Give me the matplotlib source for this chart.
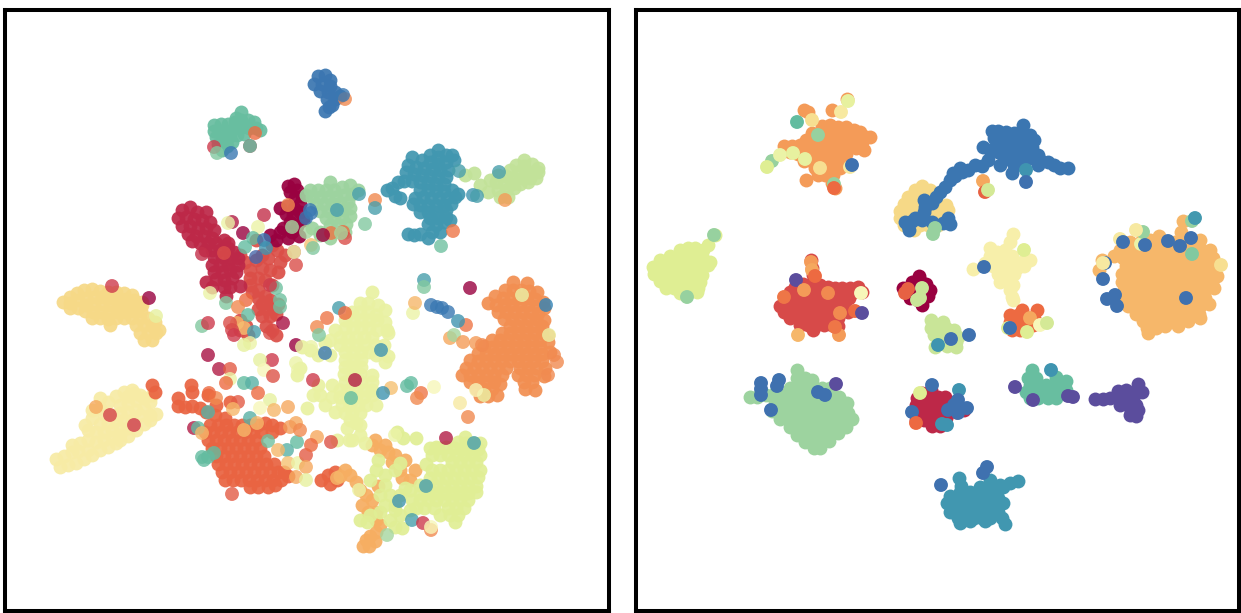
import numpy as np
import matplotlib
matplotlib.use("Agg")
import matplotlib.pyplot as plt

# ---- left panel: embedding points per cluster (x, y) ----
left_blue = [(318,76),(325,75),(330,80),(314,84),(322,84),(330,86),(320,91),(328,92),(335,92),(327,99),(335,99),(340,96),(332,105),(325,111),(329,107)]
left_mint = [(241,112),(236,118),(214,125),(221,124),(228,124),(235,122),(241,120),(248,120),(254,122),(214,131),(221,131),(228,131),(235,128),(242,127),(249,128),(256,128),(260,130),(216,137),(223,138),(230,136),(237,135),(244,134),(218,144),(225,144),(232,142),(222,150),(227,146)]
left_crimson = [(182,210),(190,207),(197,212),(206,212),(178,218),(186,217),(194,219),(202,220),(210,222),(182,226),(190,226),(198,228),(206,228),(214,230),(188,234),(196,236),(204,236),(212,238),(192,241),(200,243),(208,243),(216,243),(224,240),(228,243),(205,250),(212,250),(220,250),(228,248),(234,252),(214,257),(222,257),(230,258),(238,258),(212,265),(220,265),(228,264),(214,272),(222,272),(230,270),(216,279),(224,280),(206,282),(232,278),(224,287),(212,287),(230,287),(240,286),(226,296),(238,265),(236,272)]
left_dark = [(288,186),(294,184),(290,192),(297,190),(295,197),(302,196),(280,208),(287,206),(294,208),(300,204),(286,214),(293,215),(300,212),(303,220),(290,222),(297,226),(283,228),(280,232),(292,232),(299,236),(288,238),(276,240),(270,235)]
left_green = [(330,182),(310,190),(318,190),(326,190),(334,190),(342,187),(350,185),(358,190),(306,195),(312,197),(320,197),(328,197),(336,197),(344,195),(352,194),(316,204),(324,204),(332,204),(340,203),(348,202),(320,211),(328,211),(336,211),(344,210),(350,208),(326,218),(334,218),(342,218),(350,216),(330,225),(338,225),(346,224),(312,228),(320,232),(335,232),(345,232),(320,235),(330,238)]
left_teal = [(438,150),(430,155),(438,157),(446,155),(452,155),(412,157),(422,160),(430,162),(438,164),(446,162),(454,160),(408,165),(416,167),(424,168),(432,169),(440,170),(448,170),(406,172),(414,174),(422,175),(430,176),(438,177),(446,177),(404,181),(412,181),(420,182),(428,183),(436,184),(444,184),(398,182),(392,188),(387,190),(395,196),(400,198),(420,190),(428,190),(436,191),(444,191),(452,190),(458,194),(415,198),(423,197),(431,198),(439,198),(447,198),(455,197),(413,204),(420,205),(428,205),(436,205),(444,205),(451,204),(420,212),(428,212),(436,212),(446,210),(430,218),(438,218),(446,217),(428,224),(436,225),(444,222),(450,220),(432,232),(440,232),(428,238),(408,234),(414,235),(420,234)]
left_lime = [(524,160),(516,165),(524,166),(532,164),(538,168),(510,170),(518,172),(526,172),(534,172),(538,172),(498,175),(506,176),(514,178),(522,178),(530,178),(536,178),(490,180),(496,182),(504,183),(512,184),(520,184),(528,182),(474,173),(465,175),(480,185),(488,192),(498,190),(506,190),(514,188),(500,197),(508,197)]
left_red = [(250,285),(258,290),(265,280),(270,270),(262,268),(278,272),(272,285),(250,270),(245,262),(256,260),(277,250),(268,258),(280,262),(258,298),(265,296),(252,292),(270,300),(258,278),(262,255),(240,255),(262,304),(270,304),(278,304),(258,309),(266,309),(274,309),(262,316),(270,316),(276,314),(240,330),(246,326),(272,330),(276,335),(240,320),(248,335),(266,326),(250,278),(285,255),(272,245),(256,240)]
left_orange = [(513,282),(527,283),(505,290),(513,290),(521,290),(529,291),(537,292),(495,296),(503,298),(511,298),(519,298),(527,298),(535,299),(543,302),(488,303),(496,305),(504,305),(512,305),(520,305),(528,305),(536,306),(544,308),(498,312),(506,312),(514,312),(522,312),(530,312),(538,313),(504,319),(512,319),(520,319),(528,319),(536,319),(544,320),(510,326),(518,326),(526,326),(534,326),(542,326),(502,333),(510,333),(518,333),(526,333),(534,333),(542,333),(548,335),(492,340),(500,340),(508,340),(516,340),(524,340),(532,340),(540,340),(548,342),(484,346),(492,347),(500,347),(508,347),(516,347),(524,347),(532,347),(540,347),(478,353),(486,354),(494,354),(502,354),(510,354),(518,354),(526,354),(534,354),(542,354),(550,352),(470,360),(478,361),(486,361),(494,361),(502,361),(510,361),(518,361),(526,361),(534,361),(542,361),(466,368),(474,368),(482,368),(490,368),(498,368),(506,368),(520,368),(528,368),(536,368),(545,368),(462,375),(470,375),(478,375),(486,375),(494,375),(502,375),(518,375),(526,375),(534,375),(544,376),(470,382),(478,382),(486,382),(494,382),(524,382),(532,382),(476,389),(484,389),(492,389),(500,384),(525,389),(535,390),(480,396),(488,396),(497,395)]
left_yellow = [(70,297),(77,293),(84,290),(92,289),(100,291),(108,292),(116,292),(124,293),(132,295),(63,302),(70,303),(78,300),(86,298),(94,297),(102,297),(110,298),(118,299),(126,299),(134,300),(142,302),(70,308),(78,308),(86,305),(94,304),(102,304),(110,305),(118,305),(126,305),(134,305),(142,305),(85,311),(93,312),(101,312),(109,312),(117,312),(125,312),(133,311),(141,311),(92,318),(100,318),(108,319),(116,318),(124,318),(132,318),(140,318),(148,318),(155,322),(110,325),(136,325),(144,325),(152,326),(159,330),(140,333),(148,333),(156,333),(144,340),(152,340)]
left_pale = [(56,459),(64,456),(72,452),(60,467),(68,465),(76,463),(84,459),(78,451),(72,445),(80,443),(88,450),(92,455),(100,450),(108,447),(116,443),(88,440),(96,442),(104,440),(112,437),(120,435),(96,432),(104,432),(112,430),(120,428),(128,428),(100,424),(108,423),(116,420),(124,420),(132,420),(140,415),(112,415),(120,413),(128,412),(136,410),(144,408),(150,402),(120,405),(128,403),(136,400),(144,398),(128,396),(134,393),(140,395),(152,395),(88,430),(150,415),(85,425),(92,418),(100,408),(108,402),(116,396),(124,392),(132,390),(120,440),(128,436),(136,430),(144,424),(150,420),(156,414),(92,410),(104,414),(100,398)]
left_tomato = [(215,415),(225,418),(210,425),(218,425),(226,425),(234,425),(242,425),(250,425),(258,425),(265,423),(272,425),(205,432),(213,432),(221,432),(229,432),(237,432),(245,432),(253,432),(261,432),(208,440),(216,440),(224,440),(232,440),(240,440),(248,440),(256,440),(212,448),(220,448),(228,448),(236,448),(244,448),(252,448),(260,448),(216,456),(224,456),(232,456),(240,456),(248,456),(256,456),(264,456),(218,464),(226,464),(234,464),(242,464),(250,464),(258,464),(266,464),(274,464),(222,472),(230,472),(238,472),(246,472),(254,472),(262,472),(270,472),(278,472),(284,472),(225,480),(233,480),(241,480),(249,480),(257,480),(265,480),(273,480),(281,480),(288,476),(250,487),(258,487),(268,487),(275,485),(178,406),(185,407),(192,406),(200,408),(206,412),(178,398),(191,385),(192,392),(152,385),(155,392),(208,395),(321,480),(328,475),(330,484),(337,480),(335,472),(216,405),(230,402),(272,432),(280,428)]
left_apricot = [(345,470),(350,475),(356,482),(360,490),(366,495),(372,500),(362,505),(368,512),(376,512),(375,440),(385,445),(395,455),(405,460),(415,470),(400,470),(388,452),(380,450),(410,480),(366,540),(370,536),(376,532),(363,546),(369,546),(375,541),(380,525),(376,520),(372,445),(392,462),(402,478),(378,486),(340,476)]
left_spring = [(465,437),(458,442),(466,443),(474,443),(480,443),(430,448),(438,448),(446,447),(454,448),(462,449),(470,449),(478,449),(432,455),(440,455),(448,455),(456,455),(464,455),(472,455),(480,455),(452,462),(460,462),(468,462),(476,462),(426,464),(432,470),(440,470),(448,470),(456,470),(464,470),(472,470),(480,470),(430,478),(438,478),(446,478),(454,478),(462,478),(470,478),(478,477),(428,486),(436,486),(444,486),(452,486),(460,486),(468,486),(476,486),(420,493),(428,493),(436,493),(444,493),(452,493),(460,493),(468,493),(476,492),(412,500),(420,500),(428,500),(436,500),(444,500),(452,500),(460,500),(468,500),(416,508),(424,508),(434,508),(448,508),(456,508),(464,508),(440,515),(450,515),(458,515),(455,522),(360,520),(370,515),(380,512),(390,520),(395,527),(380,495),(390,495),(400,495),(405,488),(395,505),(385,505),(410,510),(395,510),(378,460),(385,475),(395,470),(400,463),(397,432),(403,438),(416,438),(436,447),(370,480),(367,522),(376,470),(385,485),(400,515),(410,490),(420,485),(402,528)]
left_cream = [(372,292),(360,303),(368,303),(378,305),(352,312),(360,312),(368,312),(376,315),(387,330),(345,320),(353,320),(361,320),(369,320),(377,320),(385,322),(388,333),(335,330),(345,328),(353,328),(361,328),(369,328),(377,330),(340,337),(348,337),(356,337),(364,337),(372,337),(384,345),(388,356),(340,345),(348,345),(356,345),(364,345),(345,352),(353,352),(361,352),(369,352),(345,360),(353,360),(361,360),(376,355),(385,362),(345,367),(353,367),(361,367),(344,374),(352,374),(360,374),(372,375),(345,382),(353,382),(361,382),(372,382),(307,408),(313,395),(320,395),(332,385),(340,390),(348,390),(356,390),(364,390),(372,390),(332,397),(340,397),(348,397),(356,397),(364,397),(372,395),(342,405),(350,405),(358,405),(366,405),(376,405),(345,413),(352,413),(360,413),(350,420),(356,423),(347,428),(352,440),(360,435),(360,425),(337,440),(349,440),(365,443),(297,375),(300,368),(318,355),(325,343),(310,350),(302,347),(330,355),(330,340),(325,405),(335,412),(318,385),(385,310),(375,345)]
# outliers: (x, y, colour position)
left_mixed = [(255,133,.2),(214,147,.1),(217,153,.75),(231,153,.92),(250,146,.1),(250,146,.8),(345,99,.25),(343,95,.92),(232,222,.05),(228,223,.55),(264,215,.08),(258,227,.55),(243,233,0),(253,238,.8),(264,240,.92),(266,248,.87),(245,247,.8),(224,253,.14),(202,254,.08),(256,257,.95),(296,265,.14),(294,252,.1),(294,252,.55),(311,245,.35),(313,248,.75),(288,205,.25),(310,210,.92),(306,218,.92),(311,213,.92),(337,210,.85),(359,194,.85),(375,200,.25),(375,208,.85),(365,224,.75),(343,232,.2),(331,233,.22),(345,238,.14),(323,235,0),(341,233,.7),(292,227,.7),(306,232,.7),(470,288,0),(424,280,.85),(424,287,.75),(339,308,.85),(149,298,0),(210,293,.55),(226,303,.75),(276,288,.78),(280,300,.78),(280,307,.78),(246,300,.2),(238,307,.25),(270,285,.1),(459,171,.85),(473,195,.87),(477,196,.85),(441,246,.78),(453,231,.22),(499,172,.85),(505,200,.28),(522,295,.55),(546,305,.9),(549,335,.55),(468,417,.25),(484,395,.55),(476,390,.5),(460,403,.45),(554,355,.25),(557,362,.25),(548,375,.25),(112,286,.1),(156,316,.57),(96,407,.3),(110,415,.12),(134,425,.1),(248,315,.8),(202,326,.75),(208,323,.1),(237,323,.33),(244,328,.35),(254,332,.85),(283,323,.03),(270,333,.14),(232,330,.12),(230,323,.14),(234,335,.1),(250,343,.55),(244,345,.57),(208,355,.03),(296,345,0),(302,347,.55),(311,347,.55),(272,360,.1),(260,360,.57),(264,370,.5),(273,376,.15),(296,363,.55),(298,370,.55),(219,369,.05),(230,369,.17),(230,379,.55),(226,383,.2),(244,383,.8),(252,383,.82),(258,393,.2),(270,400,.57),(260,408,.5),(288,407,.3),(274,410,.33),(238,402,.17),(216,398,.25),(209,393,.2),(208,412,.82),(233,409,.33),(250,418,.82),(257,423,.33),(244,430,.33),(268,441,.78),(287,450,.82),(297,442,.8),(278,450,.33),(288,463,.35),(298,463,.55),(306,455,.17),(306,467,.3),(296,477,.3),(306,480,.57),(317,437,.3),(331,442,.15),(311,445,.2),(296,423,.3),(290,427,.28),(300,430,.25),(194,428,.05),(198,428,.8),(202,433,.33),(202,457,.8),(208,457,.8),(214,453,.8),(204,460,.8),(232,494,.17),(327,318,.22),(345,313,.2),(317,327,.25),(319,335,.75),(325,353,.92),(381,350,.87),(313,380,.1),(355,380,.05),(391,388,.35),(383,393,.87),(351,398,.8),(411,383,.8),(407,386,.8),(421,393,.22),(417,398,.25),(434,387,.5),(413,313,.55),(415,303,.33),(431,305,.92),(437,307,.92),(442,308,.92),(448,312,.92),(466,325,.22),(458,321,.87),(450,338,.3),(454,335,.7),(463,342,.28),(476,343,.28),(482,345,.25),(446,438,.05),(474,443,.85),(426,486,.85),(399,501,.87),(412,520,.85),(423,523,.1),(431,530,.25),(431,527,.5),(387,535,.7),(337,478,.33),(359,490,.55),(395,435,.55)]

# ---- right panel ----
right_orange = [(822,126),(830,125),(838,127),(846,127),(854,130),(860,132),(870,137),(812,133),(820,133),(828,133),(836,133),(844,133),(852,135),(860,138),(866,137),(806,140),(814,140),(822,140),(830,140),(838,140),(846,140),(854,142),(862,142),(800,145),(808,147),(816,147),(824,147),(832,147),(840,147),(848,147),(856,148),(864,150),(784,146),(792,146),(790,152),(798,154),(806,154),(814,154),(822,154),(830,154),(838,154),(846,154),(804,161),(812,161),(820,161),(828,161),(836,161),(844,159),(815,168),(823,168),(831,168),(840,168),(818,175),(825,175),(833,175),(806,180),(832,183),(835,188),(804,110),(808,112),(832,110),(847,99)]
right_yellow = [(922,186),(915,190),(922,192),(930,190),(908,197),(916,198),(924,198),(932,196),(904,204),(912,204),(920,204),(928,204),(936,205),(946,205),(900,211),(908,211),(916,211),(924,211),(932,211),(940,211),(948,210),(900,218),(908,218),(916,218),(924,218),(932,218),(940,218),(904,225),(912,225),(920,225),(928,225),(938,225),(914,230)]
right_blue = [(1023,125),(1022,132),(992,131),(998,131),(1006,132),(1014,133),(1030,135),(994,138),(1002,138),(1010,138),(1018,138),(1026,140),(1034,140),(1000,145),(1008,145),(1016,145),(1024,147),(1032,147),(983,147),(990,150),(998,152),(1006,152),(1014,152),(1022,152),(1030,152),(1038,155),(1005,159),(1013,159),(1021,159),(1030,158),(1040,160),(1048,162),(1054,165),(1060,168),(1068,168),(1014,165),(1022,165),(1038,165),(1012,173),(1000,165),(988,160),(982,166),(975,165),(968,170),(962,172),(960,168),(953,173),(955,176),(950,180),(945,187),(940,192),(936,197),(932,203),(924,200),(925,207),(924,212),(922,220),(912,221),(908,226),(905,222),(915,218),(932,222),(948,218),(950,224),(943,223),(909,230)]
right_lime = [(715,235),(708,245),(703,250),(698,255),(680,250),(688,248),(695,248),(670,256),(678,256),(686,256),(694,256),(702,256),(660,260),(668,262),(676,262),(684,262),(692,262),(700,262),(710,262),(653,267),(661,268),(669,268),(677,268),(685,268),(693,268),(701,268),(708,265),(654,274),(662,275),(670,275),(678,275),(686,275),(694,275),(702,275),(660,281),(668,282),(676,282),(684,282),(692,282),(700,282),(666,288),(674,288),(682,288),(690,288),(698,288),(680,293),(688,291),(697,292)]
right_red = [(811,260),(812,268),(813,275),(795,287),(803,284),(811,285),(820,285),(828,287),(835,288),(842,288),(850,288),(858,287),(790,292),(798,292),(806,292),(814,292),(822,292),(830,292),(838,292),(846,292),(854,292),(862,292),(785,300),(793,300),(801,300),(809,300),(817,300),(825,300),(833,300),(841,300),(849,298),(780,306),(788,306),(796,306),(804,306),(812,306),(820,306),(828,306),(836,306),(844,306),(784,312),(792,312),(800,312),(808,312),(816,312),(824,312),(832,312),(840,312),(848,312),(790,318),(798,318),(806,318),(814,318),(822,318),(830,318),(838,318),(800,325),(808,325),(816,325),(824,325),(832,325),(838,326),(813,330)]
right_dark = [(903,288),(919,278),(920,290),(910,288),(919,276),(930,290),(905,290),(912,282),(926,284),(918,300),(922,305),(910,298),(928,296)]
right_sprout = [(931,320),(943,322),(931,328),(938,328),(946,328),(954,330),(934,335),(942,335),(950,335),(958,337),(940,342),(948,342),(956,342),(935,347),(947,346),(956,347)]
right_cream = [(1013,234),(1010,242),(1005,250),(990,248),(997,252),(1005,255),(1012,256),(990,256),(998,260),(1006,262),(1014,262),(1022,262),(1030,260),(985,263),(993,266),(1001,268),(1009,268),(1017,268),(1024,266),(998,274),(1006,274),(1014,274),(1000,282),(1008,281),(1013,285),(1010,290),(1012,297),(1013,300),(973,269)]
right_tomato = [(1022,310),(1037,310),(1010,315),(1018,315),(1026,318),(1034,318),(1010,322),(1018,322),(1026,325),(1033,325),(1012,330),(1020,330)]
right_sand = [(1159,236),(1130,242),(1142,240),(1150,240),(1158,242),(1166,242),(1175,242),(1183,242),(1192,240),(1200,240),(1120,250),(1129,250),(1138,250),(1147,250),(1156,250),(1165,250),(1174,250),(1183,250),(1192,250),(1201,250),(1210,250),(1114,256),(1123,258),(1132,258),(1141,258),(1150,258),(1159,258),(1168,258),(1177,258),(1186,258),(1195,258),(1204,258),(1213,258),(1126,266),(1135,266),(1144,266),(1153,266),(1162,266),(1171,266),(1180,266),(1189,266),(1198,266),(1207,266),(1216,266),(1122,274),(1131,274),(1140,274),(1149,274),(1158,274),(1167,274),(1176,274),(1185,274),(1194,274),(1203,274),(1212,274),(1217,276),(1122,282),(1131,282),(1140,282),(1149,282),(1158,282),(1167,282),(1176,282),(1185,282),(1194,282),(1203,282),(1212,282),(1124,290),(1133,290),(1142,290),(1151,290),(1160,290),(1169,290),(1178,290),(1187,290),(1196,290),(1205,290),(1214,288),(1124,298),(1133,298),(1142,298),(1151,298),(1160,298),(1169,298),(1178,298),(1187,298),(1196,298),(1205,298),(1128,306),(1137,306),(1146,306),(1155,306),(1164,306),(1173,306),(1182,306),(1191,306),(1200,306),(1209,304),(1136,314),(1145,314),(1154,314),(1163,314),(1172,314),(1181,314),(1190,314),(1199,314),(1143,321),(1152,322),(1161,322),(1170,322),(1179,322),(1188,321),(1200,318),(1147,328),(1156,328),(1165,326),(1178,326),(1148,333),(1102,260),(1099,270),(1183,221),(1174,245),(1181,232)]
right_sage = [(797,370),(797,378),(805,378),(812,380),(790,388),(798,386),(806,386),(814,388),(822,388),(830,388),(750,397),(757,397),(766,395),(775,393),(783,395),(791,395),(799,395),(807,395),(815,395),(823,395),(831,395),(839,397),(775,403),(783,403),(791,403),(799,403),(807,403),(815,403),(823,403),(831,403),(839,403),(847,403),(772,411),(780,411),(788,411),(796,411),(804,411),(812,411),(820,411),(828,411),(836,411),(844,411),(848,413),(780,419),(788,419),(796,419),(804,419),(812,419),(820,419),(828,419),(836,419),(844,419),(852,419),(790,427),(798,427),(806,427),(814,427),(822,427),(830,427),(838,427),(846,427),(797,435),(805,435),(813,435),(821,435),(829,435),(838,433),(805,442),(813,442),(821,442),(829,441),(814,448),(820,448)]
right_crimson = [(931,390),(922,393),(930,397),(938,397),(945,397),(917,398),(925,400),(933,402),(941,402),(950,402),(916,405),(924,405),(932,407),(940,407),(948,407),(956,405),(916,412),(924,412),(932,412),(940,412),(948,412),(956,412),(964,410),(916,420),(924,420),(932,420),(940,420),(932,426),(940,426),(946,418)]
right_mint = [(1032,370),(1028,378),(1036,378),(1056,377),(1030,385),(1038,385),(1046,385),(1054,385),(1062,383),(1066,381),(1026,392),(1034,392),(1042,392),(1050,392),(1058,392),(1066,390),(1030,398),(1038,398),(1048,398),(1056,398)]
right_violet = [(1095,399),(1103,399),(1110,398),(1118,398),(1125,398),(1133,398),(1118,391),(1126,390),(1138,384),(1134,392),(1142,392),(1120,405),(1128,405),(1136,405),(1131,412),(1138,410),(1130,415),(1136,416)]
right_teal = [(959,478),(961,486),(1018,481),(1010,483),(1000,485),(990,485),(980,487),(970,492),(960,492),(990,480),(985,490),(995,492),(1003,487),(950,496),(958,498),(966,498),(974,498),(982,498),(990,498),(998,498),(947,503),(955,505),(963,505),(971,505),(979,505),(987,505),(995,505),(1003,503),(950,512),(958,512),(966,512),(974,512),(982,512),(990,512),(998,512),(958,518),(966,518),(974,518),(982,518),(990,518),(1002,518),(960,523),(970,521),(985,521),(1005,524)]
right_mixed = [(841,112,.45),(848,101,.57),(812,120,.42),(797,122,.8),(818,135,.72),(772,161,.72),(767,167,.6),(780,155,.55),(793,153,.57),(805,159,.57),(820,168,.42),(850,167,.45),(852,165,.93),(834,184,.72),(834,188,.2),(1026,170,.87),(1026,182,.93),(983,181,.3),(985,192,.18),(988,190,.62),(933,234,.72),(935,228,.72),(714,235,.72),(687,297,.72),(796,280,1),(804,290,.28),(828,293,.25),(784,297,.22),(861,293,.5),(811,262,.28),(812,270,.3),(815,276,.2),(798,335,.33),(839,335,.28),(835,327,.22),(840,313,.25),(855,311,.2),(862,313,1),(905,293,.18),(908,289,.18),(922,288,.64),(920,298,.64),(917,300,.64),(969,335,.93),(951,339,.93),(938,345,.87),(1024,250,.6),(984,267,.93),(1030,318,.3),(1040,325,.5),(1047,323,.62),(1027,332,.6),(1008,328,.6),(1010,328,.93),(1120,239,.45),(1141,244,.55),(1143,232,.72),(1123,242,.93),(1145,245,.93),(1168,241,.93),(1180,246,.93),(1191,238,.93),(1192,221,.72),(1195,218,.86),(1192,254,.75),(1105,263,.93),(1103,279,.93),(1107,299,.93),(1115,295,.93),(1117,306,.93),(1186,298,.93),(1221,265,.42),(1103,263,.45),(1136,230,.45),(761,383,.93),(761,389,.93),(761,395,.93),(779,380,.93),(777,386,.93),(818,392,.93),(825,395,.93),(836,384,1),(771,410,.93),(920,393,.6),(932,385,.93),(959,390,.87),(912,412,.93),(916,423,.2),(947,425,.87),(942,424,.87),(958,400,.93),(948,410,.93),(958,413,.93),(967,408,.93),(954,405,.93),(1051,370,.87),(1015,387,1),(1033,400,1),(1068,396,1),(1073,397,1),(987,467,.93),(983,473,.93),(941,485,.93)]

figure_dpi = 100
marker_area = 100
tone = 0.97
panel_limits = [((5, 609), (610.5, 9.5)), ((636, 1239), (610.5, 9.5))]
spectral = plt.get_cmap("Spectral")

left_layers = [(left_red,.143),(left_crimson,.07),(left_dark,0),(left_green,.714),(left_teal,.865),(left_lime,.65),(left_mint,.79),(left_blue,.925),
               (left_yellow,.4),(left_pale,.46),(left_tomato,.19),(left_apricot,.31),(left_orange,.26),(left_spring,.595),(left_cream,.56)]
right_layers = [(right_orange,.28),(right_yellow,.4),(right_blue,.925),(right_lime,.6),(right_red,.13),(right_dark,0),(right_sprout,.64),
                (right_cream,.47),(right_tomato,.2),(right_sand,.33),(right_sage,.714),(right_crimson,.07),(right_mint,.79),(right_violet,1.0),(right_teal,.865)]

fig = plt.figure(figsize=(1241/figure_dpi, 613/figure_dpi), dpi=figure_dpi, facecolor="white")


def shade(t):
    r, g, b, _ = spectral(t)
    return (r*tone, g*tone, b*tone)


def panel(limits, layers, mixed, cluster_alpha, mixed_alpha):
    (x0, x1), (y0, y1) = limits
    ax = fig.add_axes([x0/1241, 1 - y0/613, (x1-x0)/1241, (y0-y1)/613])
    for pts, t in layers:
        p = np.array(pts, float)
        ax.scatter(p[:, 0], p[:, 1], s=marker_area, color=shade(t), alpha=cluster_alpha, linewidths=0)
    m = np.array(mixed, float)
    ax.scatter(m[:, 0], m[:, 1], s=marker_area, color=[shade(t) for t in m[:, 2]], alpha=mixed_alpha, linewidths=0)
    ax.set_xlim(x0, x1)
    ax.set_ylim(y0, y1)
    ax.set_xticks([])
    ax.set_yticks([])
    for s in ax.spines.values():
        s.set_linewidth(2.9)
        s.set_color("black")
    return ax


panel(panel_limits[0], left_layers, left_mixed, 0.93, 0.8)
panel(panel_limits[1], right_layers, right_mixed, 1.0, 1.0)
fig.savefig("out.png", dpi=figure_dpi)
